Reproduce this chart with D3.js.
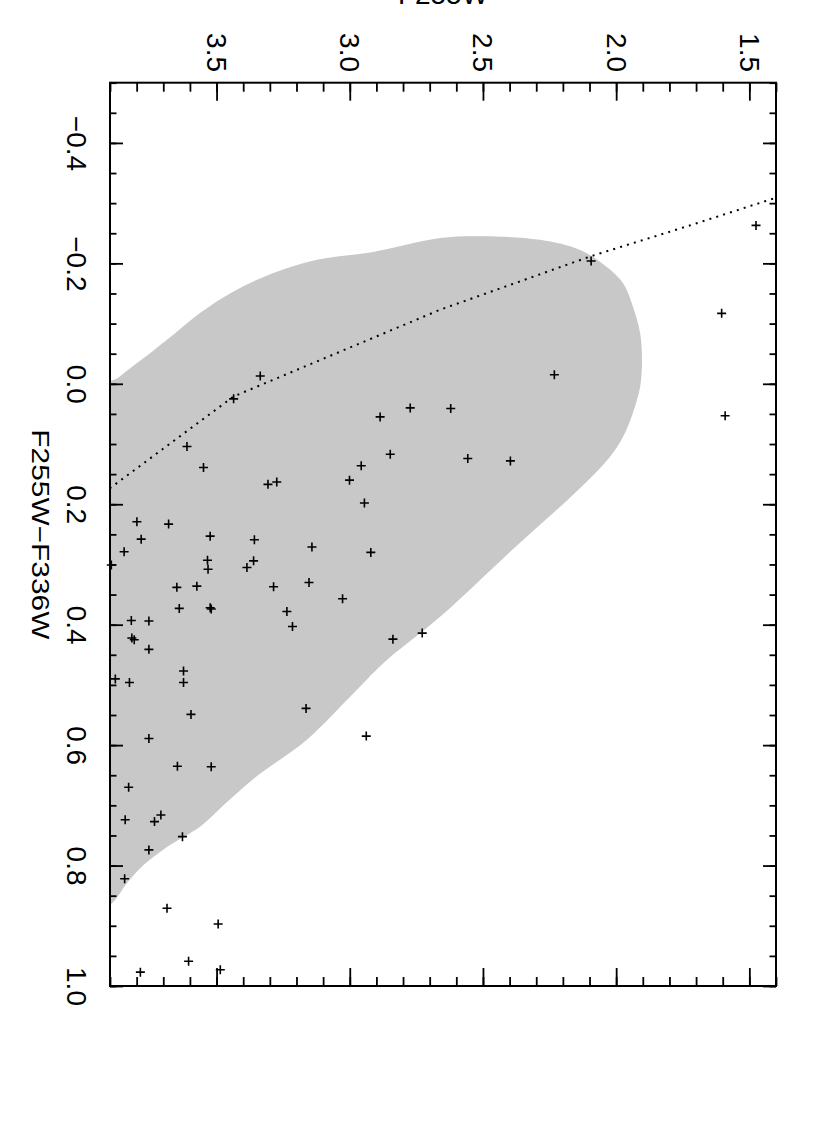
<!DOCTYPE html>
<html>
<head>
<meta charset="utf-8">
<script src="https://cdn.jsdelivr.net/npm/d3@7"></script>
<style>
  html, body { margin: 0; padding: 0; background: #fff; }
  svg { display: block; }
  text { font-family: "Liberation Sans", Arial, sans-serif; fill: #000; }
</style>
</head>
<body>
<div id="chart"></div>
<script>
// colour F255W-F336W (runs down the page) and magnitude F255W (runs across)
var colorMajor = [-0.4, -0.2, 0.0, 0.2, 0.4, 0.6, 0.8, 1.0];
var magMajor = [1.5, 2.0, 2.5, 3.0, 3.5];

// observed stars: colour, magnitude
var starColor = [
  -0.263, -0.117, 0.053, -0.204, -0.015, 0.128, 0.124, 0.041, 0.040, 0.117,
  0.055, 0.136, 0.160, 0.198, 0.280, 0.414, 0.424, 0.357, 0.585, 0.539,
  0.271, 0.330, 0.403, 0.378, 0.337, 0.167, 0.163, -0.013, 0.025, 0.104,
  0.139, 0.259, 0.294, 0.305, 0.253, 0.293, 0.308, 0.372, 0.374, 0.336,
  0.233, 0.338, 0.373, 0.229, 0.258, 0.279, 0.301, 0.393, 0.394, 0.422,
  0.425, 0.441, 0.490, 0.496, 0.477, 0.496, 0.549, 0.589, 0.635, 0.636,
  0.670, 0.724, 0.727, 0.716, 0.752, 0.774, 0.822, 0.871, 0.897, 0.959,
  0.973, 0.977
];
var starMag = [
  1.475, 1.604, 1.591, 2.094, 2.232, 2.397, 2.557, 2.621, 2.773, 2.848,
  2.886, 2.957, 3.001, 2.945, 2.921, 2.728, 2.838, 3.027, 2.938, 3.164,
  3.142, 3.153, 3.215, 3.236, 3.286, 3.307, 3.274, 3.336, 3.436, 3.611,
  3.549, 3.358, 3.361, 3.386, 3.524, 3.534, 3.532, 3.524, 3.520, 3.574,
  3.680, 3.649, 3.640, 3.799, 3.783, 3.847, 3.895, 3.820, 3.754, 3.818,
  3.809, 3.754, 3.880, 3.827, 3.624, 3.624, 3.596, 3.754, 3.647, 3.520,
  3.830, 3.843, 3.733, 3.709, 3.628, 3.754, 3.845, 3.686, 3.494, 3.605,
  3.486, 3.786
];

// model track (dotted)
var trackColor = [-0.315, -0.309, -0.262, -0.212, -0.123, -0.048, 0.021, 0.173, 0.183];
var trackMag   = [1.36, 1.40, 1.73, 2.094, 2.661, 3.065, 3.436, 3.899, 3.93];

// shaded region outline
var zoneColor = [
  -0.005, -0.026, -0.073, -0.118, -0.153, -0.184, -0.206, -0.219, -0.242, -0.245,
  -0.239, -0.222, -0.194, -0.167, -0.128, -0.084, -0.040, 0.005, 0.048, 0.088,
  0.121, 0.173, 0.279, 0.387, 0.464, 0.514, 0.591, 0.654, 0.699, 0.735,
  0.769, 0.799, 0.829, 0.865, 0.88, -0.02
];
var zoneMag = [
  3.899, 3.824, 3.686, 3.561, 3.438, 3.287, 3.123, 2.912, 2.661, 2.499,
  2.286, 2.135, 2.035, 1.974, 1.937, 1.910, 1.903, 1.910, 1.937, 1.974,
  2.023, 2.135, 2.398, 2.661, 2.874, 2.986, 3.161, 3.356, 3.472, 3.561,
  3.686, 3.774, 3.836, 3.899, 4.0, 4.0
];

var W = 830, H = 1127;
var L = 110, R = 776, T = 82.7, B = 986;

var svg = d3.select("#chart").append("svg")
  .attr("width", W).attr("height", H);
svg.append("rect").attr("width", W).attr("height", H).attr("fill", "#fff");

var cy = d3.scaleLinear().domain([-0.5, 1.0]).range([T, B]);
var mx = d3.scaleLinear().domain([3.9, 1.4]).range([L, R]);

svg.append("clipPath").attr("id", "frame")
  .append("rect").attr("x", L).attr("y", T).attr("width", R - L).attr("height", B - T);

var zone = zoneColor.map(function (c, i) { return [mx(zoneMag[i]), cy(c)]; });
svg.append("path")
  .attr("clip-path", "url(#frame)")
  .attr("d", d3.line().curve(d3.curveCatmullRomClosed.alpha(0.5))(zone))
  .attr("fill", "#c8c8c8");

var track = trackColor.map(function (c, i) { return [mx(trackMag[i]), cy(c)]; });
svg.append("path")
  .attr("clip-path", "url(#frame)")
  .attr("d", d3.line()(track))
  .attr("fill", "none")
  .attr("stroke", "#000")
  .attr("stroke-width", 2)
  .attr("stroke-dasharray", "2,5.2");

svg.append("g").selectAll("path")
  .data(starColor.map(function (c, i) { return [c, starMag[i]]; }))
  .enter().append("path")
  .attr("transform", function (d) { return "translate(" + mx(d[1]) + "," + cy(d[0]) + ")"; })
  .attr("d", "M-4.5,0H4.5M0,-4.5V4.5")
  .attr("stroke", "#000")
  .attr("stroke-width", 1.6);

// ticks, all pointing inward
function ticks(axis, tx, ty) {
  var g = svg.append("g").attr("transform", "translate(" + tx + "," + ty + ")").call(axis);
  g.select(".domain").remove();
  g.selectAll("line").attr("stroke", "#000").attr("stroke-width", 1.8);
  return g;
}
var colorMinor = cy.ticks(30), magMinor = mx.ticks(25);

ticks(d3.axisLeft(cy).tickValues(colorMinor).tickSize(-6.5).tickFormat(""), L, 0);
ticks(d3.axisRight(cy).tickValues(colorMinor).tickSize(-6.5).tickFormat(""), R, 0);
ticks(d3.axisRight(cy).tickValues(colorMajor).tickSize(-13).tickFormat(""), R, 0);
ticks(d3.axisTop(mx).tickValues(magMinor).tickSize(-9).tickFormat(""), 0, T);
ticks(d3.axisBottom(mx).tickValues(magMinor).tickSize(-9).tickFormat(""), 0, B);
ticks(d3.axisBottom(mx).tickValues(magMajor).tickSize(-18).tickFormat(""), 0, B);

var gl = ticks(d3.axisLeft(cy).tickValues(colorMajor).tickSize(-13).tickFormat(d3.format(".1f")), L, 0);
gl.selectAll("text")
  .attr("x", null).attr("dy", null)
  .attr("text-anchor", "middle")
  .attr("transform", "translate(" + (67 - L) + ",0) rotate(90)")
  .style("font-size", "28px");

var gt = ticks(d3.axisTop(mx).tickValues(magMajor).tickSize(-18).tickFormat(d3.format(".1f")), 0, T);
gt.selectAll("text")
  .attr("y", null).attr("dy", null)
  .attr("text-anchor", "end")
  .attr("transform", "translate(-10," + (72 - T) + ") rotate(90)")
  .style("font-size", "28px");

svg.selectAll(".tick text").attr("font-family", null).attr("font-size", null);

svg.append("rect")
  .attr("x", L).attr("y", T).attr("width", R - L).attr("height", B - T)
  .attr("fill", "none").attr("stroke", "#000").attr("stroke-width", 2);

svg.append("text")
  .attr("transform", "translate(32," + ((T + B) / 2) + ") rotate(90)")
  .attr("text-anchor", "middle")
  .attr("textLength", 210).attr("lengthAdjust", "spacingAndGlyphs")
  .style("font-size", "24px")
  .text("F255W\u2212F336W");

// axis title sits mostly above the page edge, as in the original
svg.append("text")
  .attr("x", (L + R) / 2).attr("y", 4)
  .attr("text-anchor", "middle")
  .style("font-size", "28px")
  .text("F255W");
</script>
</body>
</html>
